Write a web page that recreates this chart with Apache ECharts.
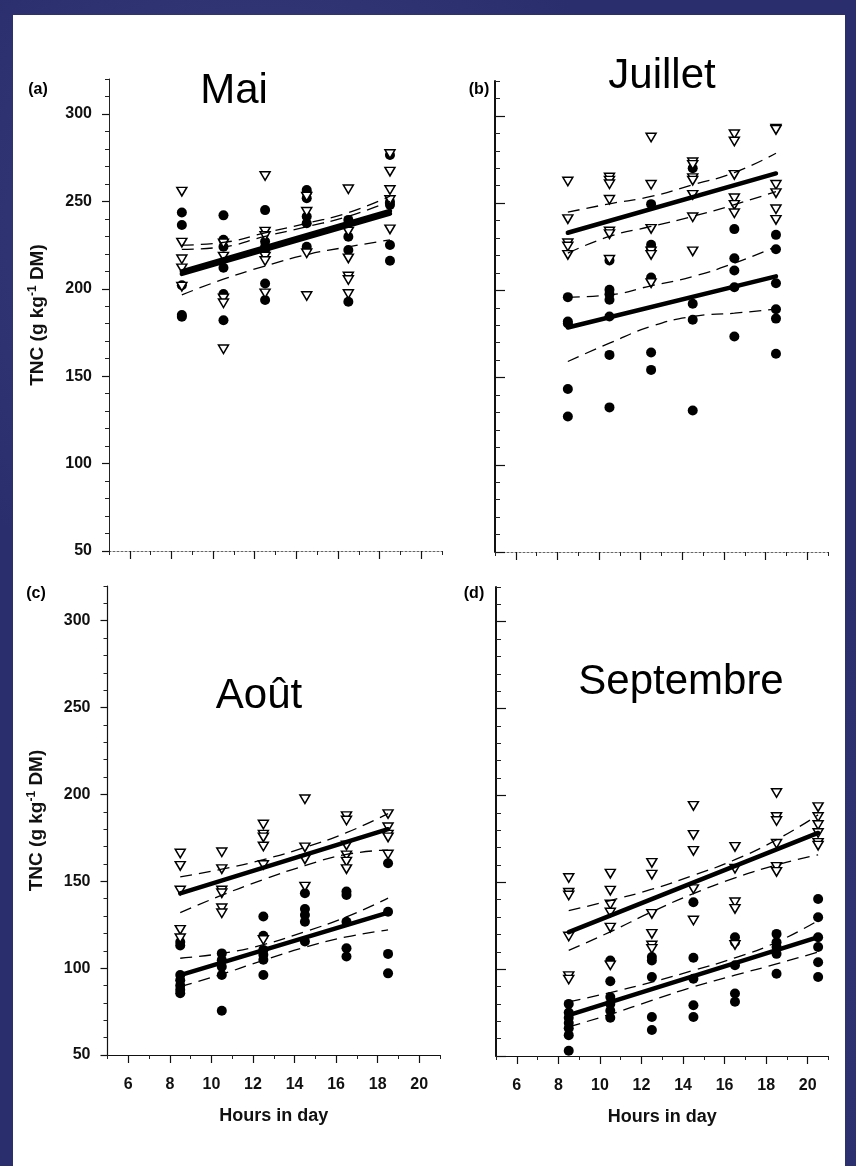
<!DOCTYPE html>
<html>
<head>
<meta charset="utf-8">
<script src="https://cdn.jsdelivr.net/npm/echarts@6/dist/echarts.min.js"></script>
<style>
html,body{margin:0;padding:0;width:856px;height:1166px;overflow:hidden;
  background-color:#2b2e6c;
  background-image:radial-gradient(circle at 30% 20%, rgba(70,74,140,0.5) 0, rgba(0,0,0,0) 35%),
                   radial-gradient(circle at 70% 80%, rgba(60,64,130,0.5) 0, rgba(0,0,0,0) 40%);}
#paper{position:absolute;left:13px;top:15px;width:832px;height:1151px;background:#fff;}
#chart{position:absolute;left:0;top:0;width:856px;height:1166px;}
</style>
</head>
<body>
<div id="paper"></div>
<div id="chart"></div>
<script>
// ---------------- tick labels ----------------
const xMajorTicks = [6, 8, 10, 12, 14, 16, 18, 20];
const xMinorTicks = [5, 7, 9, 11, 13, 15, 17, 19, 21];
const yMajorTicks = [50, 100, 150, 200, 250, 300];
const yMinorTicks = [60, 70, 80, 90, 110, 120, 130, 140, 160, 170, 180, 190, 210, 220, 230, 240, 260, 270, 280, 290, 310, 320];

// ---------------- panel titles ----------------
const panelTitles = ['Mai', 'Juillet', 'Août', 'Septembre'];
const panelLetters = ['(a)', '(b)', '(c)', '(d)'];
const xAxisTitle = 'Hours in day';

// ---------------- (a) Mai ----------------
const maiHours = [8.5, 10.5, 12.5, 14.5, 16.5, 18.5];
const maiCircles = [
  [243.6, 236.5, 202, 185, 184],
  [242, 228, 224, 212, 197, 182],
  [245, 227, 224, 222, 203, 193.6],
  [256.5, 255, 251.8, 241.3, 237.5, 224],
  [239.4, 229.8, 222.2, 192.6],
  [276.5, 249.8, 248, 225, 216]
];
const maiTriangles = [
  [255.6, 226.4, 216.9, 211.7, 201.2],
  [226, 218.4, 194.5, 191.7, 165.4],
  [264.5, 232.7, 230.2, 218.4, 215.9, 197.4],
  [252.7, 244.1, 220.3, 195.9],
  [256.9, 232.7, 217.4, 207, 205, 197],
  [277.1, 267, 256.5, 250.8, 234]
];
const maiRegCircles = [208.5, 243];
const maiRegTriangles = [210, 244.5];
const maiBandUpperC = [225, 226.5, 232, 237.5, 243.5, 253];
const maiBandUpperT = [222.5, 224, 230, 235.5, 241.5, 250];
const maiBandLower = [196.5, 205.5, 213, 219.5, 224, 228];

// ---------------- (b) Juillet ----------------
const julHours = [8.5, 10.5, 12.5, 14.5, 16.5, 18.5];
const julCircles = [
  [196.1, 182.1, 181, 143.4, 127.7],
  [217.1, 200.3, 197.8, 194.6, 185, 163, 132.9],
  [249.4, 226.1, 224, 207.4, 164.4, 154.4],
  [270, 192.3, 183.1, 131.1],
  [235.1, 218.4, 211.4, 201.8, 173.5],
  [231.8, 223.6, 204.1, 189.2, 183.8, 163.6]
];
const julTriangles = [
  [262.4, 240.8, 227, 225.1, 220.3],
  [264.7, 262.9, 260.8, 251.9, 233.7, 232.2, 217.5],
  [287.6, 260.5, 235.2, 222.3, 220.3, 204.1],
  [273.4, 271.9, 264.3, 262.9, 254.7, 241.9, 222.3],
  [289.5, 285.3, 266.2, 252.8, 249, 244.2],
  [292.6, 292, 260.5, 255.7, 246.5, 240.4]
];
const julRegCircles = [178.7, 208];
const julRegTriangles = [233, 267];
const julBandUpperC = [196.1, 197.4, 202.6, 207.9, 215.6, 225.1];
const julBandLowerC = [159.2, 169.7, 179.3, 185, 186.9, 189.2];
const julBandUpperT = [244.8, 249.6, 253.8, 260.5, 267.5, 278.6];
const julBandLowerT = [221.3, 230.9, 236.6, 242.4, 249.1, 256.6];

// ---------------- (c) Août ----------------
const aouHours = [8.5, 10.5, 12.5, 14.5, 16.5, 18.5];
const aouCircles = [
  [115, 113, 96, 93, 90, 87.5, 85.5],
  [108.5, 104.6, 100.8, 96.1, 75.5],
  [129.7, 118.6, 110.5, 107.7, 104.8, 96.1],
  [143.1, 134, 130.6, 126.7, 115.3],
  [144.1, 142.1, 126.7, 111.5, 106.7],
  [160.4, 132.5, 108.2, 97]
];
const aouTriangles = [
  [166, 158.9, 144.7, 122, 117.2],
  [166.7, 157, 144.7, 143.1, 134.5, 131.6],
  [182.7, 176.9, 175.3, 170, 159.4, 116.2],
  [197.2, 169.5, 162.6, 146.9],
  [187.5, 185, 170.7, 164.9, 161.3, 157],
  [188.7, 181.1, 176.9, 175.3, 165.4]
];
const aouRegCircles = [96, 132];
const aouRegTriangles = [143, 180];
const aouBandUpperC = [105.7, 108.5, 113.5, 121, 129.5, 140.3];
const aouBandLowerC = [89.4, 96.5, 104.5, 112, 118, 122];
const aouBandUpperT = [152.5, 157, 162.5, 169.5, 178, 189];
const aouBandLowerT = [132, 142, 151, 159, 165.5, 168];

// ---------------- (d) Septembre ----------------
const sepHours = [8.5, 10.5, 12.5, 14.5, 16.5, 18.5, 20.5];
const sepCircles = [
  [80, 75, 72, 69, 66, 62, 53],
  [105, 93, 84, 80, 76, 72],
  [107, 105, 95.5, 72.5, 65],
  [138.5, 106.6, 94.5, 79.2, 72.5],
  [118.4, 115.5, 102.2, 86, 81.2],
  [120.3, 115.5, 112.7, 108.8, 97.3],
  [140.4, 129.9, 118.4, 112.7, 104, 95.5]
];
const sepTriangles = [
  [152.5, 144, 142.4, 118.8, 96, 94],
  [155, 145.2, 137.2, 132.6, 123.9, 102.2],
  [161.2, 154.4, 131.8, 120.3, 113.6, 111.7],
  [194, 177.3, 168.1, 146.1, 128],
  [170.4, 157.8, 138.5, 134.7, 114],
  [201.4, 187.6, 185.3, 172.2, 158.9, 156],
  [193.3, 187.6, 183, 178.4, 172.7, 171.1]
];
const sepRegCircles = [73.5, 118.4];
const sepRegTriangles = [121.3, 178.4];
const sepBandUpperC = [81.2, 86.5, 92.5, 99.3, 106.5, 115.5, 128];
const sepBandLowerC = [66.8, 74, 82, 89.8, 96.5, 103, 109.8];
const sepBandUpperT = [133.7, 139.5, 146, 154, 163, 174.5, 188.8];
const sepBandLowerT = [110.8, 121.5, 133, 143.5, 152.5, 160, 165.8];

// ---------------- layout ----------------
const FONT = "'Liberation Sans', Arial, Helvetica, sans-serif";
const grids = [
  {left: 109, top: 79, width: 333, height: 472},
  {left: 495, top: 81, width: 333, height: 471},
  {left: 107.5, top: 586, width: 332.5, height: 469},
  {left: 496, top: 587, width: 332.5, height: 469}
];

const panels = [
  {hours: maiHours, circles: maiCircles, tris: maiTriangles, regC: maiRegCircles, regT: maiRegTriangles,
   bands: [maiBandUpperC, maiBandUpperT, maiBandLower]},
  {hours: julHours, circles: julCircles, tris: julTriangles, regC: julRegCircles, regT: julRegTriangles,
   bands: [julBandUpperC, julBandLowerC, julBandUpperT, julBandLowerT]},
  {hours: aouHours, circles: aouCircles, tris: aouTriangles, regC: aouRegCircles, regT: aouRegTriangles,
   bands: [aouBandUpperC, aouBandLowerC, aouBandUpperT, aouBandLowerT]},
  {hours: sepHours, circles: sepCircles, tris: sepTriangles, regC: sepRegCircles, regT: sepRegTriangles,
   bands: [sepBandUpperC, sepBandLowerC, sepBandUpperT, sepBandLowerT]}
];

const axisStyles = [
  {xLine: {color: '#666', width: 1, type: [2, 2]}, yLine: {color: '#222', width: 1}, yInside: false, xLabels: false, yLabels: true},
  {xLine: {color: '#666', width: 1, type: [2, 2]}, yLine: {color: '#111', width: 2}, yInside: true, xLabels: false, yLabels: false},
  {xLine: {color: '#111', width: 1.2}, yLine: {color: '#111', width: 1.2}, yInside: false, xLabels: true, yLabels: true},
  {xLine: {color: '#111', width: 1.2}, yLine: {color: '#111', width: 2}, yInside: true, xLabels: true, yLabels: false}
];

const xAxis = [], yAxis = [], series = [];
grids.forEach(function (g, gi) {
  const st = axisStyles[gi];
  xAxis.push({
    type: 'value', gridIndex: gi, position: 'bottom', min: 5, max: 21,
    axisLine: {show: true, onZero: false, lineStyle: st.xLine},
    axisTick: {show: true, length: 8, customValues: xMajorTicks, lineStyle: {color: '#111', width: 1.2}},
    axisLabel: {show: st.xLabels, customValues: xMajorTicks, fontSize: 16, fontWeight: 'bold', fontFamily: FONT, color: '#111', margin: 22},
    splitLine: {show: false},
    name: st.xLabels ? xAxisTitle : '', nameLocation: 'middle', nameGap: 52,
    nameTextStyle: {fontSize: 18, fontWeight: 'bold', fontFamily: FONT, color: '#111'}
  });
  xAxis.push({
    type: 'value', gridIndex: gi, position: 'bottom', min: 5, max: 21,
    axisLine: {show: false, onZero: false},
    axisTick: {show: true, length: 4, customValues: xMinorTicks, lineStyle: {color: '#222', width: 1}},
    axisLabel: {show: false}, splitLine: {show: false}
  });
  yAxis.push({
    type: 'value', gridIndex: gi, position: 'left', min: 50, max: 320,
    axisLine: {show: true, onZero: false, lineStyle: st.yLine},
    axisTick: {show: true, inside: st.yInside, length: st.yInside ? 10 : 7, customValues: yMajorTicks, lineStyle: {color: '#111', width: 1.2}},
    axisLabel: {show: st.yLabels, customValues: yMajorTicks, fontSize: 16, fontWeight: 'bold', fontFamily: FONT, color: '#111', margin: 17},
    splitLine: {show: false},
    name: st.yLabels ? '{b|TNC (g kg}{s|-1}{b| DM)}' : '', nameLocation: 'middle', nameGap: 60, nameRotate: 90,
    nameTextStyle: {fontFamily: FONT, color: '#111',
      rich: {b: {fontSize: 19, fontWeight: 'bold', fontFamily: FONT, color: '#111', lineHeight: 22},
             s: {fontSize: 12, fontWeight: 'bold', fontFamily: FONT, color: '#111', verticalAlign: 'top', lineHeight: 12}}}
  });
  yAxis.push({
    type: 'value', gridIndex: gi, position: 'left', min: 50, max: 320,
    axisLine: {show: false, onZero: false},
    axisTick: {show: true, inside: st.yInside, length: st.yInside ? 5 : 4, customValues: yMinorTicks, lineStyle: {color: '#222', width: 1}},
    axisLabel: {show: false}, splitLine: {show: false}
  });

  const p = panels[gi];
  const xi = gi * 2, yi = gi * 2;
  const circ = [], tri = [];
  p.hours.forEach(function (h, i) {
    p.circles[i].forEach(function (v) { circ.push([h, v]); });
    p.tris[i].forEach(function (v) { tri.push([h, v]); });
  });
  series.push({
    type: 'scatter', xAxisIndex: xi, yAxisIndex: yi, data: circ, symbol: 'circle', symbolSize: 10,
    itemStyle: {color: '#000', opacity: 1}, z: 2, silent: true
  });
  series.push({
    type: 'scatter', xAxisIndex: xi, yAxisIndex: yi, data: tri, symbol: 'path://M0,0L10,0L5,8.5Z', symbolSize: [10, 8.5],
    itemStyle: {color: '#fff', borderColor: '#000', borderWidth: 1.5, opacity: 1}, z: 3, silent: true
  });
  const h0 = p.hours[0], h1 = p.hours[p.hours.length - 1];
  [p.regC, p.regT].forEach(function (r) {
    series.push({
      type: 'line', xAxisIndex: xi, yAxisIndex: yi, data: [[h0, r[0]], [h1, r[1]]], showSymbol: false,
      lineStyle: {color: '#000', width: 4.5, cap: 'round'}, z: 4, silent: true
    });
  });
  p.bands.forEach(function (b) {
    series.push({
      type: 'line', xAxisIndex: xi, yAxisIndex: yi, data: p.hours.map(function (h, i) { return [h, b[i]]; }),
      showSymbol: false, smooth: true,
      lineStyle: {color: '#000', width: 1.3, type: [12, 7]}, z: 4, silent: true
    });
  });
});

const titlePos = [[234, 70], [662, 55], [259, 675], [681, 661]];
const letterPos = [[38, 90], [479, 90], [36, 594], [474, 594]];
const graphic = [];
panelTitles.forEach(function (t, i) {
  graphic.push({type: 'text', x: titlePos[i][0], y: titlePos[i][1], silent: true,
    style: {text: t, fontSize: 42, fontFamily: FONT, fill: '#000', textAlign: 'center', textVerticalAlign: 'top'}});
});
panelLetters.forEach(function (t, i) {
  graphic.push({type: 'text', x: letterPos[i][0], y: letterPos[i][1], silent: true,
    style: {text: t, fontSize: 16, fontWeight: 'bold', fontFamily: FONT, fill: '#000', textAlign: 'center', textVerticalAlign: 'middle'}});
});

const chart = echarts.init(document.getElementById('chart'), null, {renderer: 'canvas'});
chart.setOption({
  animation: false,
  backgroundColor: 'transparent',
  grid: grids,
  xAxis: xAxis,
  yAxis: yAxis,
  series: series,
  graphic: graphic
});
</script>
</body>
</html>
